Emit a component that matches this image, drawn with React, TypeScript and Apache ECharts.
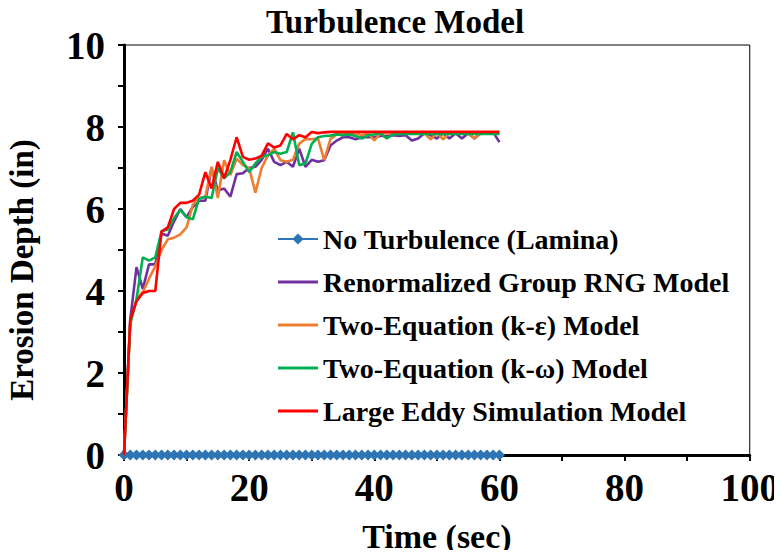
import React, { useEffect, useRef } from "react";
import * as echarts from "echarts";

const times: number[] = Array.from({ length: 61 }, (_, i) => i);

const noTurbulence: number[] = new Array(61).fill(0);

const rng: number[] = [
  0, 3.3, 4.58, 4.05, 4.65, 4.65, 5.4, 5.35, 5.7, 6.0, 5.8,
  6.05, 6.2, 6.2, 7.0, 6.45, 6.5, 6.3, 6.85, 6.87, 7.0,
  7.03, 7.2, 7.47, 7.15, 7.07, 7.15, 7.03, 7.47, 7.03, 7.2,
  7.15, 7.19, 7.55, 7.67, 7.75, 7.75, 7.7, 7.75, 7.75, 7.75,
  7.78, 7.78, 7.8, 7.78, 7.8, 7.67, 7.72, 7.85, 7.8, 7.72,
  7.85, 7.72, 7.85, 7.72, 7.85, 7.72, 7.85, 7.85, 7.87, 7.63,
];

const kEpsilon: number[] = [
  0, 3.2, 3.8, 3.97, 4.3, 4.6, 5.0, 5.26, 5.3, 5.38, 5.55,
  6.1, 6.27, 6.3, 7.03, 6.27, 7.19, 6.83, 7.23, 7.07, 7.0,
  6.4, 7.0, 7.31, 7.47, 7.19, 7.15, 7.2, 7.59, 7.71, 7.7,
  7.72, 7.19, 7.71, 7.82, 7.85, 7.82, 7.85, 7.8, 7.85, 7.67,
  7.85, 7.85, 7.85, 7.85, 7.85, 7.85, 7.85, 7.85, 7.7, 7.85,
  7.7, 7.85, 7.85, 7.85, 7.85, 7.72, 7.85, 7.85, 7.85, 7.85,
];

const kOmega: number[] = [
  0, 3.2, 3.8, 4.82, 4.74, 4.82, 5.46, 5.5, 5.78, 5.98, 5.8,
  5.75, 6.25, 6.3, 6.27, 7.0, 6.75, 6.9, 7.39, 7.15, 6.9,
  7.11, 7.27, 7.31, 7.39, 7.35, 7.39, 7.87, 7.07, 7.11, 7.59,
  7.75, 7.78, 7.79, 7.82, 7.8, 7.82, 7.78, 7.72, 7.8, 7.82,
  7.85, 7.72, 7.82, 7.83, 7.83, 7.83, 7.83, 7.83, 7.83, 7.83,
  7.83, 7.83, 7.83, 7.83, 7.83, 7.83, 7.83, 7.83, 7.83, 7.83,
];

const les: number[] = [
  0, 3.3, 3.75, 3.95, 4.0, 4.0, 5.45, 5.55, 6.0, 6.15, 6.15,
  6.2, 6.35, 6.9, 6.5, 7.15, 6.75, 7.2, 7.75, 7.27, 7.2,
  7.23, 7.3, 7.6, 7.5, 7.55, 7.83, 7.7, 7.8, 7.75, 7.88,
  7.85, 7.87, 7.88, 7.88, 7.88, 7.88, 7.88, 7.88, 7.88, 7.88,
  7.88, 7.88, 7.88, 7.88, 7.88, 7.88, 7.88, 7.88, 7.88, 7.88,
  7.88, 7.88, 7.88, 7.88, 7.88, 7.88, 7.88, 7.88, 7.88, 7.88,
];

const seriesNames: string[] = [
  "No Turbulence (Lamina)",
  "Renormalized Group RNG Model",
  "Two-Equation (k-ε) Model",
  "Two-Equation (k-ω) Model",
  "Large Eddy Simulation Model",
];

const seriesColors: string[] = ["#2E75B6", "#7030A0", "#ED7D31", "#00B050", "#FF0000"];

const yAxisTitle = "Erosion Depth (in)";
const xAxisTitle = "Time (sec)";
const chartTitle = "Turbulence Model";

const FONT = "'Liberation Serif', 'Times New Roman', serif";

const LINE_ICON = "path://M0,0 M40,0 M0,5.5 L40,5.5 L40,8.5 L0,8.5 Z M0,14 M40,14";

const pair = (vals: number[]) => times.map((t, i) => [t, vals[i]]);

export default function App() {
  const ref = useRef<HTMLDivElement>(null);
  useEffect(() => {
    if (!ref.current) return;
    const chart = echarts.init(ref.current, null, { renderer: "svg" });
    const allData = [noTurbulence, rng, kEpsilon, kOmega, les];
    chart.setOption({
      animation: false,
      backgroundColor: "#fff",
      title: {
        text: chartTitle,
        left: 390,
        textAlign: "center",
        top: 0,
        textStyle: { fontFamily: FONT, fontWeight: "bold", fontSize: 33, color: "#000" },
      },
      graphic: [
        {
          type: "text",
          x: 22,
          y: 270,
          rotation: Math.PI / 2,
          style: {
            text: yAxisTitle,
            fontFamily: FONT,
            fontWeight: "bold",
            fontSize: 33,
            fill: "#000",
            align: "center",
            verticalAlign: "middle",
          },
        },
      ],
      grid: {
        left: 124,
        right: 30,
        top: 45,
        bottom: 98,
        show: true,
        borderColor: "#000",
        borderWidth: 1,
        backgroundColor: "transparent",
      },
      legend: {
        orient: "vertical",
        left: 272,
        top: 220,
        itemWidth: 40,
        itemHeight: 14,
        itemGap: 15,
        data: seriesNames.map((name, i) => (i === 0 ? { name } : { name, icon: LINE_ICON })),
        textStyle: { fontFamily: FONT, fontWeight: "bold", fontSize: 28, color: "#000" },
      },
      xAxis: {
        type: "value",
        min: 0,
        max: 100,
        interval: 10,
        name: xAxisTitle,
        nameLocation: "middle",
        nameGap: 64,
        nameTextStyle: { fontFamily: FONT, fontWeight: "bold", fontSize: 34, color: "#000" },
        axisLine: { show: true, lineStyle: { color: "#000", width: 3 } },
        axisTick: { show: true, inside: false, length: 6, lineStyle: { color: "#000", width: 2 } },
        axisLabel: {
          fontFamily: FONT,
          fontWeight: "bold",
          fontSize: 39,
          color: "#000",
          margin: 13,
          formatter: (v: number) => (v % 20 === 0 ? String(v) : ""),
        },
        splitLine: { show: false },
      },
      yAxis: {
        type: "value",
        min: 0,
        max: 10,
        interval: 1,
        axisLine: { show: true, lineStyle: { color: "#000", width: 3 } },
        axisTick: { show: true, inside: false, length: 6, lineStyle: { color: "#000", width: 2 } },
        axisLabel: {
          fontFamily: FONT,
          fontWeight: "bold",
          fontSize: 39,
          color: "#000",
          margin: 19,
          formatter: (v: number) => (v % 2 === 0 ? String(v) : ""),
        },
        splitLine: { show: false },
      },
      series: seriesNames.map((name, i) => ({
        name,
        type: "line",
        data: pair(allData[i]),
        color: seriesColors[i],
        symbol: i === 0 ? "diamond" : "none",
        symbolSize: i === 0 ? 11 : 0,
        showSymbol: i === 0,
        lineStyle: { width: i === 0 ? 3 : 2.6, color: seriesColors[i] },
        itemStyle: { color: seriesColors[i] },
        z: 2 + i,
      })),
    });
    return () => chart.dispose();
  }, []);
  return <div ref={ref} style={{ width: 782, height: 558, margin: -8 }} />;
}
